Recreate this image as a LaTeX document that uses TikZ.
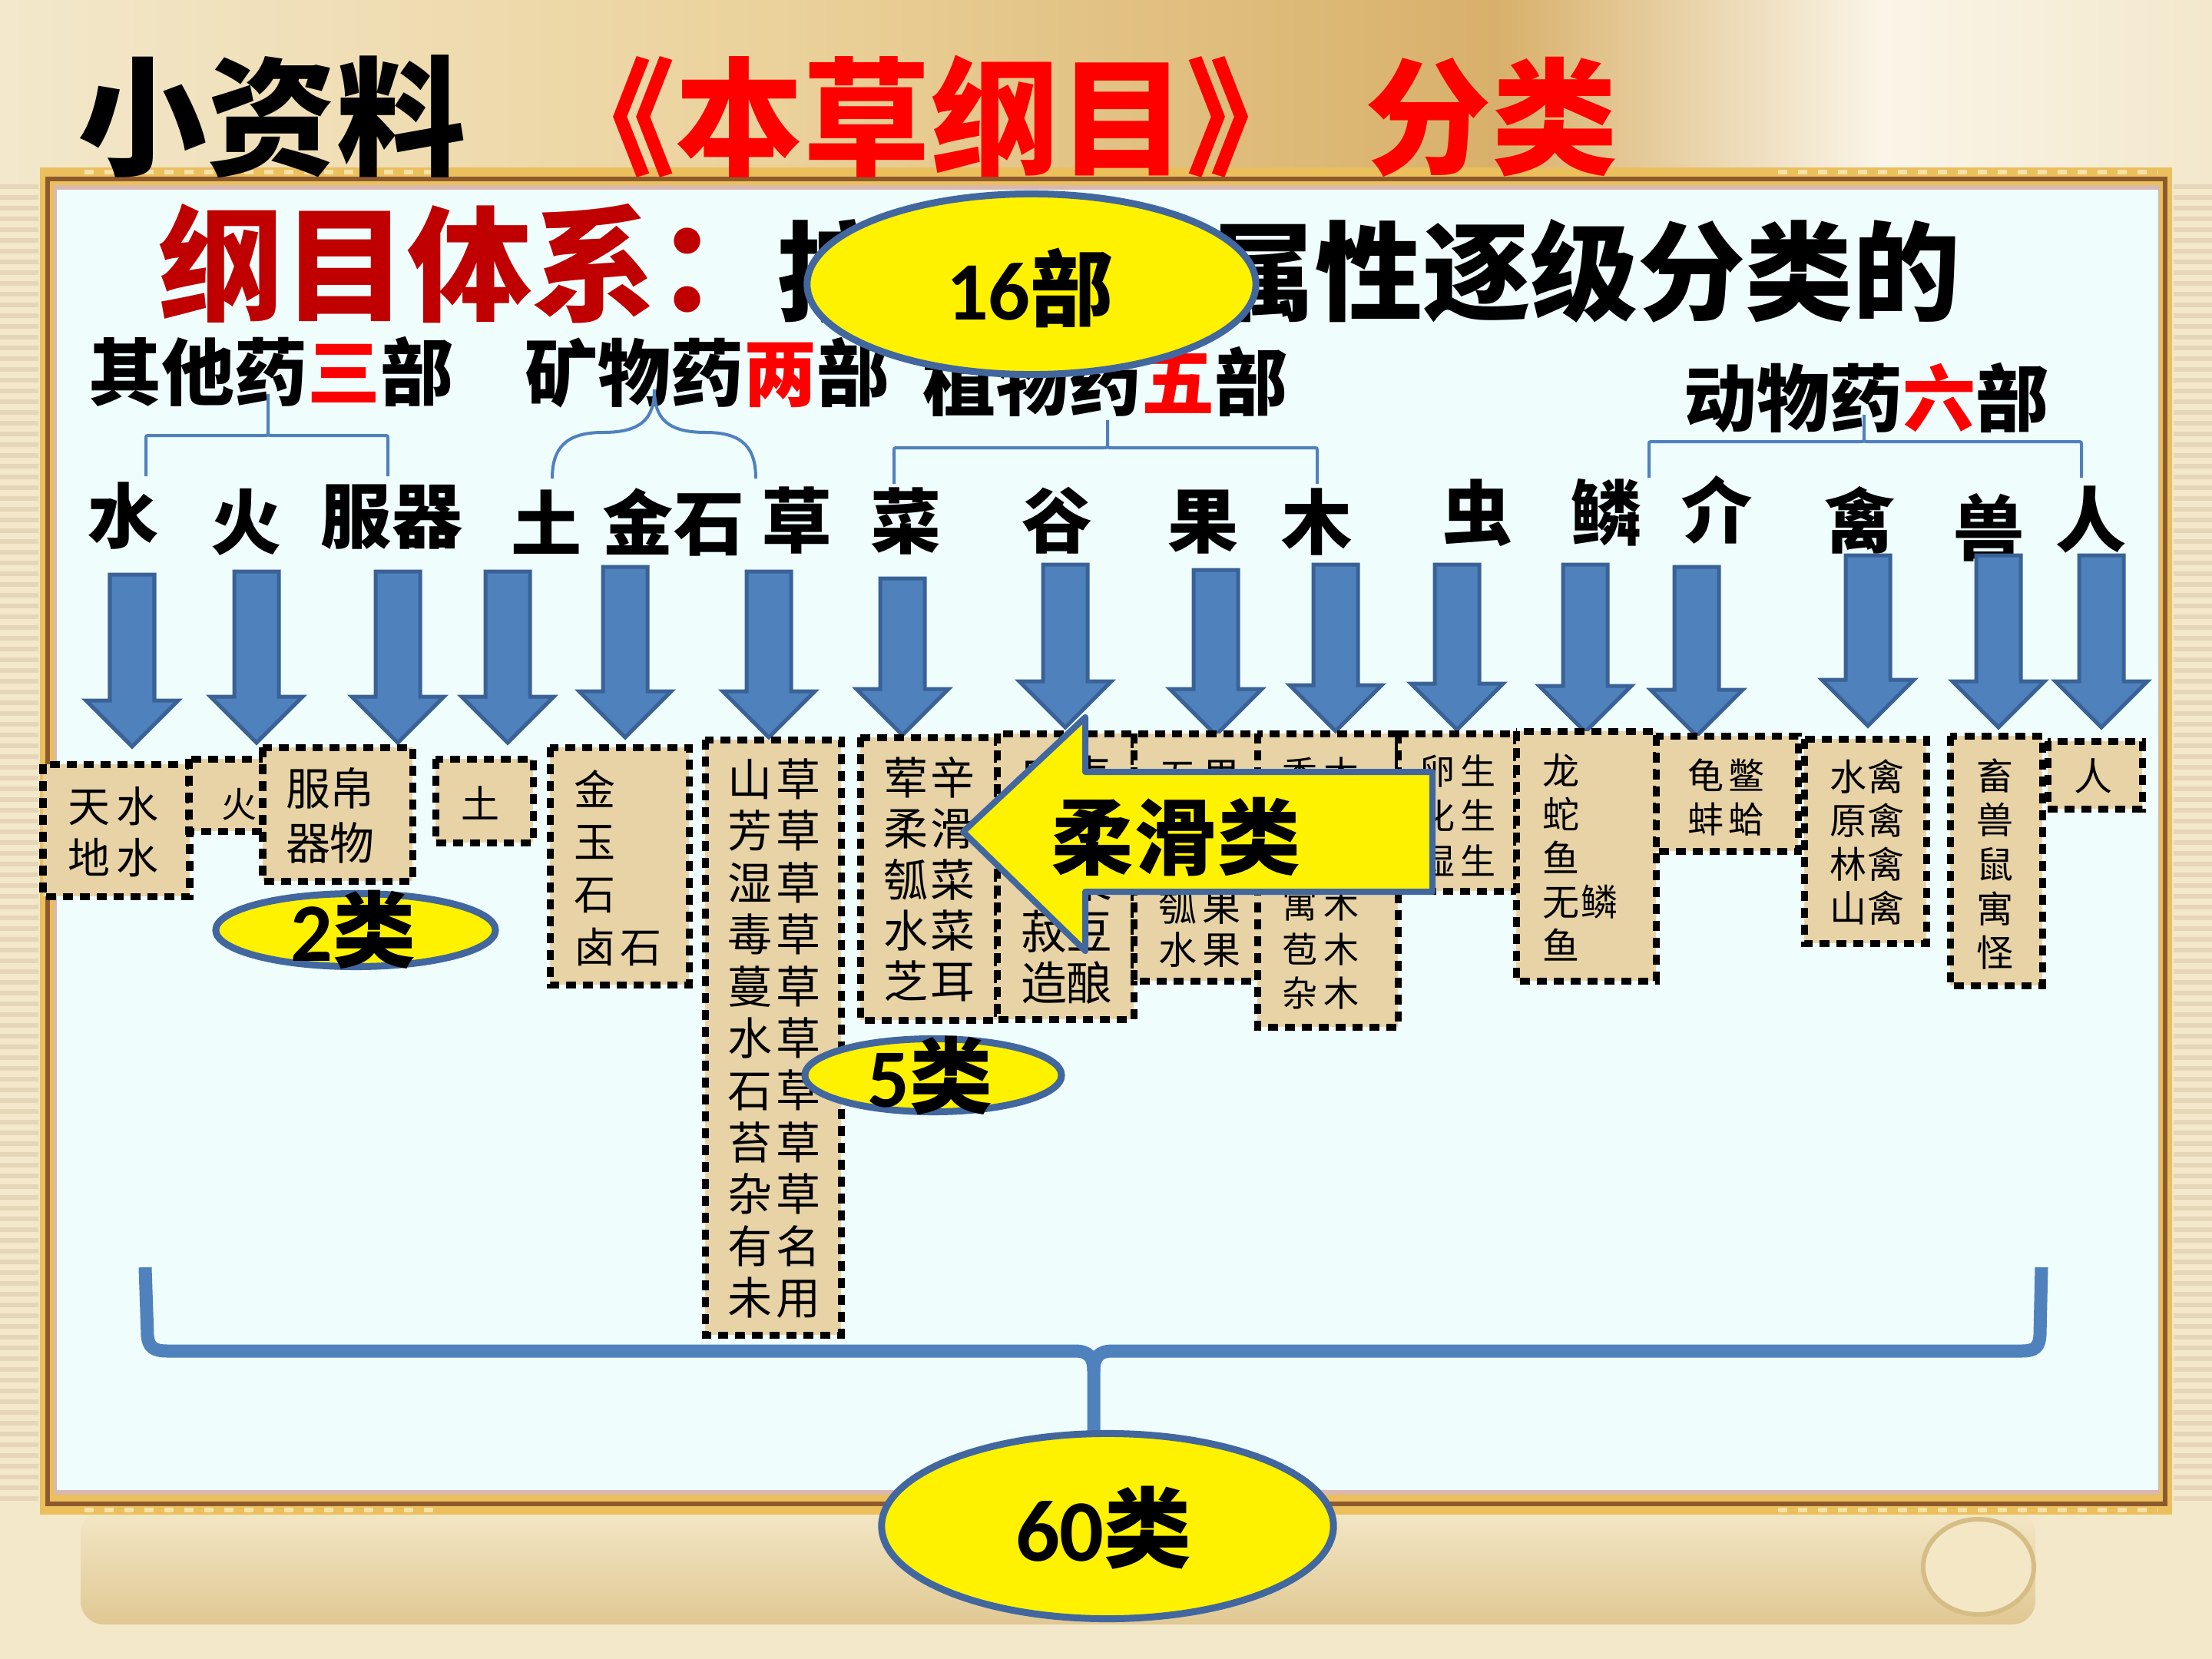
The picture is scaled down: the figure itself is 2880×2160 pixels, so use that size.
\documentclass[tikz,border=0pt]{standalone}
\usepackage{fontspec}
\setmainfont{Noto Sans CJK SC}
\newfontfamily\latfont{Carlito}
\usetikzlibrary{shapes.geometric}
\newlength\pxu \setlength\pxu{0.28453pt}
\newlength\chw
\newcommand\ch[1]{\makebox[\chw]{#1}}
\newcommand\fs[1]{\fontsize{#1\pxu}{#1\pxu}\selectfont}
\definecolor{arrowblue}{HTML}{4F81BD}
\definecolor{arrowdark}{HTML}{3A6296}
\definecolor{ovalblue}{HTML}{41679E}
\definecolor{paperc}{HTML}{E8D3A6}
\definecolor{panel}{HTML}{EFFDFD}
\definecolor{titlered}{HTML}{FF0000}
\definecolor{darkred}{HTML}{C00000}
\definecolor{bgcream}{HTML}{F4E8CA}
\definecolor{bgtop}{HTML}{F3E8CC}
\definecolor{woodA}{HTML}{EBD29B}
\definecolor{woodB}{HTML}{D8B06A}
\definecolor{curl}{HTML}{FAF5E8}
\definecolor{stripe}{HTML}{E4D6B6}
\definecolor{goldc}{HTML}{EABF5C}
\definecolor{lightgold}{HTML}{F6E2A8}
\definecolor{brownline}{HTML}{8C5A2E}
\definecolor{pinkline}{HTML}{D9B8B0}
\definecolor{rolltop}{HTML}{F3E7C6}
\definecolor{rollbot}{HTML}{E0C893}
\definecolor{rollrim}{HTML}{D6BD86}
\begin{document}
\begin{tikzpicture}[x=0.01cm,y=-0.01cm,
  every node/.style={inner sep=0pt,outer sep=0pt},
  paper/.style={fill=paperc,draw=black,line width=9\pxu,dash pattern=on 13\pxu off 9\pxu},
  ptext/.style n args={3}{font={\fontsize{#1\pxu}{#2\pxu}\selectfont\setlength\chw{#3\pxu}},align=left},
  blockarrow/.style={fill=arrowblue,draw=arrowdark,line width=5\pxu,line join=miter},
  oval/.style={ellipse,draw=ovalblue,fill=yellow,line width=9\pxu},
  brk/.style={draw=arrowblue,line width=4\pxu},
  bigbrace/.style={draw=arrowblue,line width=17\pxu},
  lvtwo/.style={font=\fs{95}\bfseries},
  lvthree/.style={font=\fs{92}\bfseries},
  bigtxt/.style={font=\fs{108}\bfseries}]
\useasboundingbox (0,0) rectangle (2880,2160);
% ---------- background ----------
\fill[bgcream] (0,0) rectangle (2880,2160);
\shade[left color=bgtop,right color=woodA] (0,0) rectangle (1000,240);
\shade[left color=woodA,right color=woodB] (1000,0) rectangle (1950,240);
\shade[left color=woodB,right color=curl] (1950,0) rectangle (2450,240);
\shade[left color=curl,right color=bgtop] (2450,0) rectangle (2880,240);
\foreach \yy in {240,254,...,1960} {
  \fill[stripe] (0,\yy) rectangle (50,\yy+6);
  \fill[stripe] (2830,\yy) rectangle (2880,\yy+6);
}
\shade[top color=rolltop,bottom color=rollbot,rounded corners=30\pxu] (105,1966) rectangle (2650,2115);
\fill[rolltop,draw=rollrim,line width=6\pxu] (2576,2040) ellipse [x radius=72,y radius=62];
% ---------- frame ----------
\fill[goldc] (52,218) rectangle (2828,1972);
\draw[brownline,line width=6\pxu] (62,233) rectangle (2819,1958);
\draw[lightgold,line width=6\pxu,dash pattern=on 12\pxu off 14\pxu] (110,224) -- (570,224) (2315,224) -- (2810,224) (110,1966) -- (570,1966) (2315,1966) -- (2810,1966);
\fill[pinkline] (70,241) rectangle (2812,1946);
\fill[panel] (74,247) rectangle (2810,1940);
% ---------- titles ----------
\node[font=\fs{168}\bfseries] (t1) at (354,152) {小资料};
\node[font=\fs{166}\bfseries,text=titlered] (t2) at (1212,152) {《本草纲目》};
\node[font=\fs{164}\bfseries,text=titlered] (t3) at (1942,152) {分类};
\node[font=\fs{162}\bfseries,text=darkred,anchor=west] (s1) at (206,343) {纲目体系：};
\node[font=\fs{140}\bfseries,anchor=west] (s2) at (1012,353) {按照自然属性逐级分类的};
% ---------- level 2 ----------
\node[lvtwo] (h1) at (353,484) {其他药\textcolor{titlered}{三}部};
\node[lvtwo] (h2) at (921,485) {矿物药\textcolor{titlered}{两}部};
\node[lvtwo] (h3) at (1439,497) {植物药\textcolor{titlered}{五}部};
\node[lvtwo] (h4) at (2430,518) {动物药\textcolor{titlered}{六}部};
% 16 bu oval
\node[oval,minimum width=584\pxu,minimum height=235\pxu] (e16) at (1343,370) {};
\node[bigtxt] (e16t) at (1341,375) {{\latfont 16}部};
% ---------- brackets ----------
\draw[brk] (190,620) -- (190,572) .. controls (190,567) .. (195,567) -- (344,567) .. controls (349,567) .. (349,562) -- (349,513);
\draw[brk] (349,562) .. controls (349,567) .. (354,567) -- (500,567) .. controls (505,567) .. (505,572) -- (505,620);
\draw[brk] (719,623) .. controls (719,585) and (735,563) .. (785,563) .. controls (835,563) and (852,545) .. (852,507);
\draw[brk] (852,507) .. controls (852,545) and (869,563) .. (919,563) .. controls (969,563) and (984,585) .. (984,623);
\draw[brk] (1164,630) -- (1164,588) .. controls (1164,583) .. (1169,583) -- (1437,583) .. controls (1442,583) .. (1442,578) -- (1442,547);
\draw[brk] (1442,578) .. controls (1442,583) .. (1447,583) -- (1710,583) .. controls (1715,583) .. (1715,588) -- (1715,630);
\draw[brk] (2147,622) -- (2147,580) .. controls (2147,575) .. (2152,575) -- (2422,575) .. controls (2427,575) .. (2427,570) -- (2427,540);
\draw[brk] (2427,570) .. controls (2427,575) .. (2432,575) -- (2705,575) .. controls (2710,575) .. (2710,580) -- (2710,622);
% ---------- level 3 ----------
\node[lvthree] (l1) at (161,672) {水};
\node[lvthree] (l2) at (321,680) {火};
\node[lvthree] (l3) at (510,673) {服器};
\node[lvthree] (l4) at (712,680) {土};
\node[lvthree] (l5) at (877,680) {金石};
\node[lvthree] (l6) at (1038,678) {草};
\node[lvthree] (l7) at (1180,679) {菜};
\node[lvthree] (l8) at (1377,678) {谷};
\node[lvthree] (l9) at (1567,680) {果};
\node[lvthree] (l10) at (1715,680) {木};
\node[lvthree] (l11) at (1924,668) {虫};
\node[lvthree] (l12) at (2092,667) {鳞};
\node[lvthree] (l13) at (2236,664) {介};
\node[lvthree] (l14) at (2422,677) {禽};
\node[lvthree] (l15) at (2590,687) {兽};
\node[lvthree] (l16) at (2723,676) {人};
% ---------- block arrows ----------
\foreach \n/\xx/\tp/\tip in {1/172/748/972,2/334/744/967,3/518/744/967,4/661/744/967,5/814/738/960,6/1001/744/960,7/1175/753/957,8/1387/735/947,9/1583/742/957,10/1739/735/952,11/1897/735/950,12/2064/735/953,13/2209/738/958,14/2432/723/945,15/2602/723/947,16/2736/723/947} {
  \coordinate (a\n s) at (\xx,\tp);
  \coordinate (a\n e) at (\xx,\tip);
  \draw[blockarrow] ({\xx-29},\tp) -- ({\xx+29},\tp) -- ({\xx+29},{\tip-60}) -- ({\xx+60},{\tip-60}) -- (a\n e) -- ({\xx-60},{\tip-60}) -- ({\xx-29},{\tip-60}) -- cycle;
}
% ---------- paper boxes ----------
\path[paper] (56,995) rectangle (247,1167);
\path[paper] (246,988) rectangle (380,1082);
\path[paper] (342,973) rectangle (537,1147);
\path[paper] (567,988) rectangle (694,1097);
\path[paper] (716,973) rectangle (897,1282);
\path[paper] (918,963) rectangle (1095,1738);
\path[paper] (1120,960) rectangle (1298,1328);
\path[paper] (1298,955) rectangle (1476,1327);
\path[paper] (1476,955) rectangle (1637,1277);
\path[paper] (1637,955) rectangle (1820,1337);
\path[paper] (1820,955) rectangle (1974,1160);
\path[paper] (1974,952) rectangle (2156,1277);
\path[paper] (2156,958) rectangle (2341,1108);
\path[paper] (2349,962) rectangle (2508,1228);
\path[paper] (2539,958) rectangle (2659,1283);
\path[paper] (2666,965) rectangle (2789,1053);
\node[ptext={55}{67}{63}] (p1) at (148,1083) {\ch{天}\ch{水}\\\ch{地}\ch{水}};
\node[ptext={46}{46}{46}] (p2) at (312,1047) {火};
\node[ptext={58}{71}{56}] (p3) at (430,1062) {\ch{服}\ch{帛}\\\ch{器}\ch{物}};
\node[ptext={50}{50}{50}] (p4) at (626,1045) {土};
\node[ptext={54}{68.3}{60}] (p5) at (805,1130) {\ch{金}\\\ch{玉}\\\ch{石}\\\ch{卤}\ch{石}};
\node[ptext={58}{67.5}{63}] (p6) at (1008,1352) {\ch{山}\ch{草}\\\ch{芳}\ch{草}\\\ch{湿}\ch{草}\\\ch{毒}\ch{草}\\\ch{蔓}\ch{草}\\\ch{水}\ch{草}\\\ch{石}\ch{草}\\\ch{苔}\ch{草}\\\ch{杂}\ch{草}\\\ch{有}\ch{名}\\\ch{未}\ch{用}};
\node[ptext={58}{66.25}{61}] (p7) at (1210,1145) {\ch{荤}\ch{辛}\\\ch{柔}\ch{滑}\\\ch{瓠}\ch{菜}\\\ch{水}\ch{菜}\\\ch{芝}\ch{耳}};
\node[ptext={60}{67}{58}] (p8) at (1389,1146) {\ch{麻}\ch{麦}\\\ch{稻}\\\ch{稷}\ch{粟}\\\ch{菽}\ch{豆}\\\ch{造}\ch{酿}};
\node[ptext={50}{56.5}{56}] (p9) at (1562,1125) {\ch{五}\ch{果}\\\ch{山}\ch{果}\\\ch{夷}\ch{果}\\\ch{瓠}\ch{果}\\\ch{水}\ch{果}};
\node[ptext={46}{57}{54}] (p10) at (1720,1150) {\ch{香}\ch{木}\\\ch{乔}\ch{木}\\\ch{灌}\ch{木}\\\ch{寓}\ch{木}\\\ch{苞}\ch{木}\\\ch{杂}\ch{木}};
\node[ptext={46}{58.5}{53}] (p11) at (1898,1062) {\ch{卵}\ch{生}\\\ch{化}\ch{生}\\\ch{湿}\ch{生}};
\node[ptext={48}{57}{50}] (p12) at (2058,1116) {\ch{龙}\\\ch{蛇}\\\ch{鱼}\\\ch{无}\ch{鳞}\\\ch{鱼}};
\node[ptext={47}{57}{53}] (p13) at (2248,1038) {\ch{龟}\ch{鳖}\\\ch{蚌}\ch{蛤}};
\node[ptext={48}{57}{49}] (p14) at (2431,1097) {\ch{水}\ch{禽}\\\ch{原}\ch{禽}\\\ch{林}\ch{禽}\\\ch{山}\ch{禽}};
\node[ptext={48}{57.5}{48}] (p15) at (2597,1125) {\ch{畜}\\\ch{兽}\\\ch{鼠}\\\ch{寓}\\\ch{怪}};
\node[ptext={50}{50}{50}] (p16) at (2725,1010) {人};
% ---------- small ovals ----------
\node[oval,minimum width=364\pxu,minimum height=95\pxu] (e2) at (463,1211) {};
\node[bigtxt] (e2t) at (460,1210) {{\latfont 2}类};
\node[oval,minimum width=334\pxu,minimum height=95\pxu] (e5) at (1215,1400) {};
\node[bigtxt] (e5t) at (1211,1400) {{\latfont 5}类};
% ---------- yellow arrow ----------
\coordinate (ytip) at (1254,1083);
\draw[fill=yellow,draw=ovalblue,line width=8\pxu,line join=round] (1865,1005) -- (1413,1005) -- (1413,934) -- (ytip) -- (1413,1238) -- (1413,1161) -- (1865,1161) -- cycle;
\node[bigtxt] (rh) at (1531,1090) {柔滑类};
% ---------- big brace ----------
\draw[bigbrace] (189,1650) -- (192,1738) .. controls (193,1754) and (200,1759) .. (218,1759) -- (1400,1759) .. controls (1418,1759) and (1424,1768) .. (1424,1785) -- (1424,1870);
\draw[bigbrace] (1424,1785) .. controls (1424,1768) and (1430,1759) .. (1448,1759) -- (2632,1759) .. controls (2650,1759) and (2655,1754) .. (2656,1738) -- (2658,1650);
\node[oval,minimum width=588\pxu,minimum height=241\pxu] (e60) at (1442,1987) {};
\node[font=\fs{114}\bfseries] (e60t) at (1437,1989) {{\latfont 60}类};
\end{tikzpicture}
\end{document}
